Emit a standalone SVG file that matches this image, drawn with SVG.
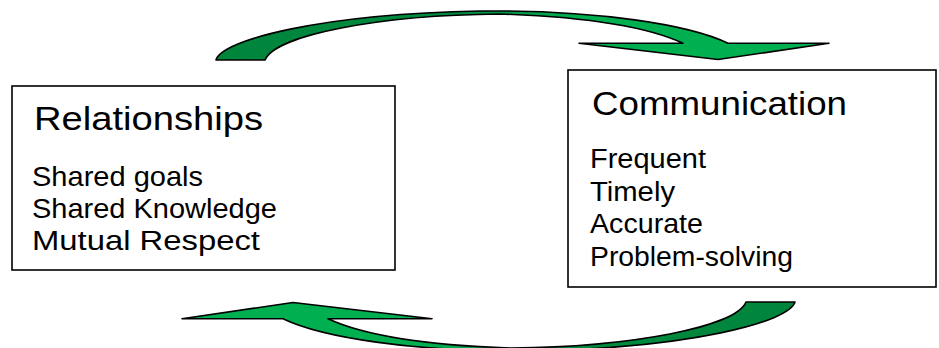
<svg xmlns="http://www.w3.org/2000/svg" width="939" height="348" viewBox="0 0 939 348">
<defs>
<linearGradient id="g" x1="0" y1="0" x2="1" y2="0">
<stop offset="0" stop-color="#00843c"/>
<stop offset="0.4" stop-color="#008c3f"/>
<stop offset="0.6" stop-color="#00b050"/>
<stop offset="1" stop-color="#00b050"/>
</linearGradient>
<path id="arc" d="M216,60 C222,40 320,14 480,11 C600,10 690,25 728,43.3 L829,43.3 L718,59.5 L579,43.3 L683,43.3 C650,28 590,17 500,14 C380,15 275,35 265,60 Z"/>
</defs>
<style>
.box{fill:#fff;stroke:#000;stroke-width:1.6}
.t{font-family:"Liberation Sans",Arial,sans-serif;fill:#000}
.h{font-size:33px}
.b{font-size:27.5px}
.arr{fill:url(#g);stroke:#000;stroke-width:1.6;stroke-linejoin:round}
</style>
<rect width="939" height="348" fill="#fff"/>
<g id="connectors">
<use href="#arc" class="arr"/>
<use href="#arc" class="arr" transform="rotate(180 505.5 181)"/>
</g>
<g id="relationships">
<rect class="box" x="12" y="86" width="383" height="184"/>
<text class="t h" x="34" y="130" textLength="229" lengthAdjust="spacingAndGlyphs">Relationships</text>
<text class="t b" x="32" y="186" textLength="171" lengthAdjust="spacingAndGlyphs">Shared goals</text>
<text class="t b" x="32" y="218" textLength="245" lengthAdjust="spacingAndGlyphs">Shared Knowledge</text>
<text class="t b" x="32" y="250" textLength="228" lengthAdjust="spacingAndGlyphs">Mutual Respect</text>
</g>
<g id="communication">
<rect class="box" x="568" y="70" width="368" height="217"/>
<text class="t h" x="592" y="115" textLength="255" lengthAdjust="spacingAndGlyphs">Communication</text>
<text class="t b" x="590" y="168" textLength="116" lengthAdjust="spacingAndGlyphs">Frequent</text>
<text class="t b" x="590" y="200.5" textLength="85" lengthAdjust="spacingAndGlyphs">Timely</text>
<text class="t b" x="590" y="233" textLength="113" lengthAdjust="spacingAndGlyphs">Accurate</text>
<text class="t b" x="590" y="265.5" textLength="203" lengthAdjust="spacingAndGlyphs">Problem-solving</text>
</g>
</svg>
